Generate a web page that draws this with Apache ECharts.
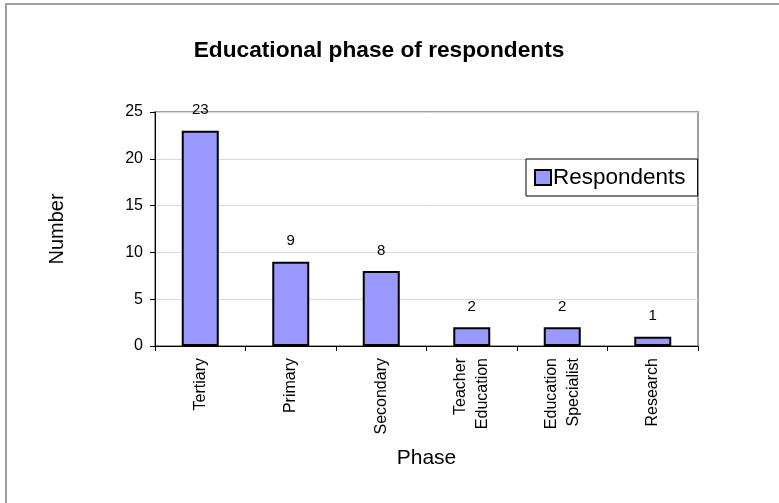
<!DOCTYPE html>
<html>
<head>
<meta charset="utf-8">
<script src="https://cdn.jsdelivr.net/npm/echarts@6/dist/echarts.min.js"></script>
<style>
  html, body { margin: 0; padding: 0; background: #fff; }
  #chart { width: 779px; height: 503px; }
</style>
</head>
<body>
<div id="chart"></div>
<script>
var phases = ['Tertiary', 'Primary', 'Secondary', 'Teacher\nEducation', 'Education\nSpecialist', 'Research'];
var respondents = [23, 9, 8, 2, 2, 1];
var yTicks = [0, 5, 10, 15, 20, 25];

var font = 'Liberation Sans, Arial, sans-serif';
var myChart = echarts.init(document.getElementById('chart'));

var option = {
    animation: false,
    backgroundColor: '#fff',
    textStyle: { fontFamily: font },
    title: {
        text: 'Educational phase of respondents',
        left: 374,
        top: 34,
        textAlign: 'center',
        textStyle: { fontFamily: font, fontSize: 22.7, fontWeight: 'bold', color: '#000' }
    },
    graphic: [
        {
            type: 'rect',
            shape: { x: 6, y: 4, width: 800, height: 520 },
            style: { fill: null, stroke: '#a0a0a0', lineWidth: 2 },
            silent: true
        },
        {
            type: 'rect',
            shape: { x: 155, y: 112, width: 543, height: 234 },
            style: { fill: null, stroke: '#a0a0a0', lineWidth: 2 },
            silent: true,
            z: -1
        }
    ],
    legend: {
        data: ['Respondents'],
        left: 526,
        top: 159,
        orient: 'vertical',
        icon: 'rect',
        itemWidth: 16,
        itemHeight: 15,
        itemGap: 0,
        padding: [7, 12, 7, 8],
        borderColor: '#000',
        borderWidth: 1,
        backgroundColor: '#fff',
        itemStyle: { borderColor: '#000', borderWidth: 2 },
        textStyle: { fontFamily: font, fontSize: 22.5, color: '#000', padding: [0, 0, 0, -3] }
    },
    grid: { left: 155, right: 81, top: 112, bottom: 157 },
    xAxis: {
        type: 'category',
        data: phases,
        name: 'Phase',
        nameLocation: 'middle',
        nameGap: 102,
        nameTextStyle: { fontFamily: font, fontSize: 21, color: '#000' },
        axisLine: { lineStyle: { color: '#000', width: 1 } },
        axisTick: { show: true, length: 5, lineStyle: { color: '#000' } },
        axisLabel: { rotate: 90, margin: 12, fontFamily: font, fontSize: 16, color: '#000', lineHeight: 22 }
    },
    yAxis: {
        type: 'value',
        min: yTicks[0],
        max: yTicks[yTicks.length - 1],
        interval: 5,
        name: 'Number',
        nameLocation: 'middle',
        nameGap: 88,
        nameTextStyle: { fontFamily: font, fontSize: 20, color: '#000' },
        axisLine: { show: true, lineStyle: { color: '#000', width: 1 } },
        axisTick: { show: true, length: 5, lineStyle: { color: '#000' } },
        axisLabel: { margin: 12, fontFamily: font, fontSize: 16, color: '#000' },
        splitLine: { lineStyle: { color: '#d9d9d9', width: 1 } }
    },
    series: [
        {
            name: 'Respondents',
            type: 'bar',
            data: respondents,
            barWidth: 37,
            itemStyle: { color: '#9999ff', borderColor: '#000', borderWidth: 2 },
            label: { show: true, position: 'top', distance: 13, fontFamily: font, fontSize: 15, color: '#000' }
        }
    ]
};

option && myChart.setOption(option);
</script>
</body>
</html>
